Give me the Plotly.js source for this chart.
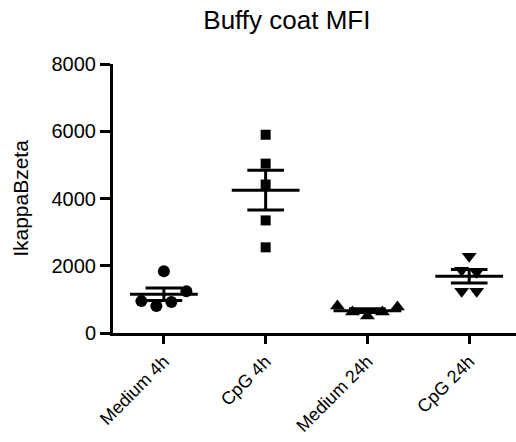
<!DOCTYPE html>
<html>
<head>
<meta charset="utf-8">
<script src="https://cdn.plot.ly/plotly-3.0.1.min.js"></script>
<style>html,body{margin:0;padding:0;background:#fff;}#chart{width:516px;height:442px;}</style>
</head>
<body>
<div id="chart"></div>
<script>
// ---- data ----
const categories = ['Medium 4h', 'CpG 4h', 'Medium 24h', 'CpG 24h'];
const medium4h  = [1837, 948, 800, 919, 1244];
const cpg4h     = [5896, 5037, 4415, 3348, 2548];
const medium24h = [800, 622, 504, 622, 770];
const cpg24h    = [2281, 1867, 1807, 1244, 1244];
const yTicks    = [0, 2000, 4000, 6000, 8000];

const groups = [medium4h, cpg4h, medium24h, cpg24h];
const symbols = ['circle', 'square', 'triangle-up', 'triangle-down'];
const sizes = [12, 10, 13, 13];

// ---- geometry helpers ----
const W = 516, H = 442;
const M = {l: 113, r: 0, t: 64, b: 109};
const xRange = [-0.5, 3.46];
const yRange = [0, 8000];
const pxPerX = (W - M.l - M.r) / (xRange[1] - xRange[0]);
const pxPerY = (H - M.t - M.b) / (yRange[1] - yRange[0]);
const rowPx = 12, gapPx = 15;

function swarmX(vals, center) {
  const order = vals.map((v, i) => i).sort((a, b) => vals[b] - vals[a]);
  const rows = [];
  let cur = [order[0]];
  for (let k = 1; k < order.length; k++) {
    const d = (vals[order[k - 1]] - vals[order[k]]) * pxPerY;
    if (d < rowPx) cur.push(order[k]); else { rows.push(cur); cur = [order[k]]; }
  }
  rows.push(cur);
  const xs = new Array(vals.length);
  rows.forEach(r => {
    r.sort((a, b) => a - b);
    r.forEach((idx, j) => { xs[idx] = center + (j - (r.length - 1) / 2) * gapPx / pxPerX; });
  });
  return xs;
}
function mean(a) { return a.reduce((s, v) => s + v, 0) / a.length; }
function sem(a) {
  const m = mean(a);
  const v = a.reduce((s, x) => s + (x - m) * (x - m), 0) / (a.length - 1);
  return Math.sqrt(v) / Math.sqrt(a.length);
}

const traces = [];
groups.forEach((vals, i) => {
  traces.push({
    type: 'scatter', mode: 'markers', x: swarmX(vals, i), y: vals,
    marker: {symbol: symbols[i], size: sizes[i], color: '#000'},
    cliponaxis: false, hoverinfo: 'y', showlegend: false
  });
  const m = mean(vals), s = sem(vals);
  const hw = 0.333, ew = 0.18;
  traces.push({
    type: 'scatter', mode: 'lines',
    x: [i - hw, i + hw, null, i - ew, i + ew, null, i - ew, i + ew, null, i, i],
    y: [m, m, null, m + s, m + s, null, m - s, m - s, null, m - s, m + s],
    line: {color: '#000', width: 3}, hoverinfo: 'skip', showlegend: false, cliponaxis: false
  });
});

const font = 'Liberation Sans, Arial, Helvetica, sans-serif';
const layout = {
  width: W, height: H,
  margin: M,
  paper_bgcolor: '#fff', plot_bgcolor: '#fff',
  font: {family: font, color: '#000'},
  title: {text: 'Buffy coat MFI', font: {family: font, size: 26, color: '#000'},
          xref: 'container', x: 0.556, xanchor: 'center', yref: 'container', y: 0.955, yanchor: 'middle'},
  xaxis: {
    range: xRange, tickmode: 'array', tickvals: [0, 1, 2, 3], ticktext: categories,
    tickangle: -45, showline: true, linewidth: 3, linecolor: '#000',
    ticks: 'outside', ticklen: 8, tickwidth: 3, tickcolor: '#000',
    showgrid: false, zeroline: false, tickfont: {size: 18, family: font, color: '#000'}
  },
  yaxis: {
    range: yRange, tickmode: 'array', tickvals: yTicks,
    showline: true, linewidth: 3, linecolor: '#000',
    ticks: 'outside', ticklen: 10, tickwidth: 3, tickcolor: '#000',
    showgrid: false, zeroline: false, tickfont: {size: 20, family: font, color: '#000'},
    title: {text: 'IkappaBzeta', font: {size: 21, family: font, color: '#000'}, standoff: 18}
  }
};
Plotly.newPlot('chart', traces, layout, {displayModeBar: false, staticPlot: true});
</script>
</body>
</html>
